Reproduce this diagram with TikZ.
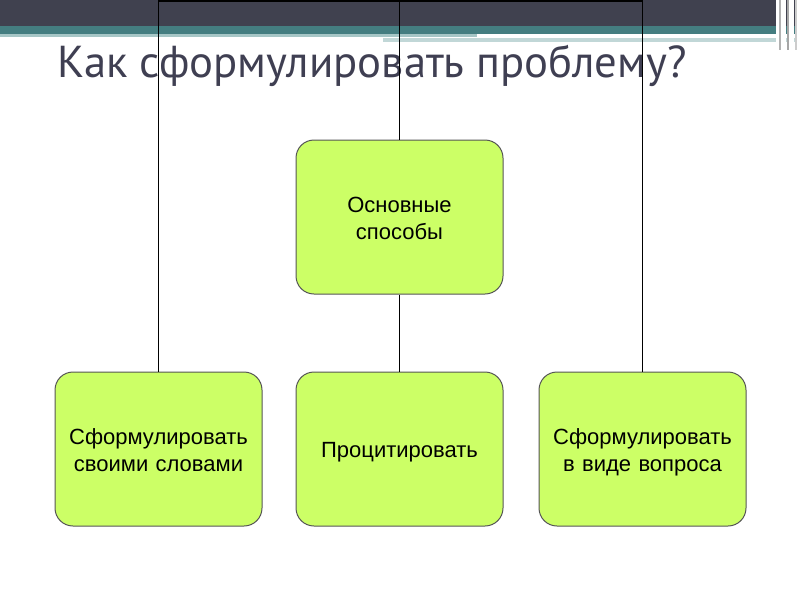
\documentclass[tikz,border=0pt]{standalone}
\usepackage{fontspec}
\setmainfont{Liberation Sans}
\newfontfamily\titlefont{PT Sans}
\usepackage{xcolor}
\usepackage{tikz}
\usetikzlibrary{positioning}
\definecolor{barDark}{HTML}{40414F}
\definecolor{barTeal}{HTML}{447D80}
\definecolor{barLight}{HTML}{A6C6C6}
\definecolor{titleGray}{HTML}{3F3F52}
\definecolor{boxFill}{HTML}{CCFF66}
\definecolor{boxEdge}{HTML}{555555}

\begin{document}
\begin{tikzpicture}[x=1pt,y=-1pt,font=\fontsize{22}{27}\selectfont]

\tikzset{
blk/.style={
    draw=boxEdge,
    line width=1pt,
    rounded corners=18pt,
    fill=boxFill,
    minimum width=207pt,
    minimum height=154pt,
    text width=198pt,
    align=center,
    execute at begin node={\rule{0pt}{26pt}}
},
ln/.style={line width=1.8pt,color=black}
}

\useasboundingbox (0,0) rectangle (800,600);

% slide header
\fill[barDark] (0,0) rectangle (800,26);
\fill[barTeal] (0,26) rectangle (800,34);
\fill[barLight] (0,34) rectangle (477,37);
\fill[barLight!70] (383,38) rectangle (800,42);
\fill[white] (776,0) rectangle (779,50);
\fill[gray!60] (779,0) rectangle (781,50);
\fill[white] (781,0) rectangle (786,50);
\fill[gray!70] (787,0) rectangle (789,50);
\fill[white] (789,0) rectangle (794,50);
\fill[gray!40] (795,0) rectangle (797,50);
\fill[white] (797,0) rectangle (800,50);

\node[anchor=base west,text=titleGray,font=\titlefont\fontsize{44.7}{50}\selectfont,inner sep=0pt] (title) at (57,77) {Как сформулировать проблему?};

\node[blk] (main) at (399.5,217) {Основные\\способы\strut};
\node[blk] (own) at (158.5,449) {Сформулировать\\своими словами\strut};
\node[blk] (cite) at (399.5,449) {Процитировать\strut};
\node[blk] (quest) at (642.5,449) {Сформулировать\\в виде вопроса\strut};

\coordinate (top) at (399.5,1);

\draw[ln] (main.north) -- (top);
\draw[ln] (own.north) |- (top) -| (quest.north);
\draw[ln] (main.south) -- (cite.north);

\end{tikzpicture}
\end{document}
